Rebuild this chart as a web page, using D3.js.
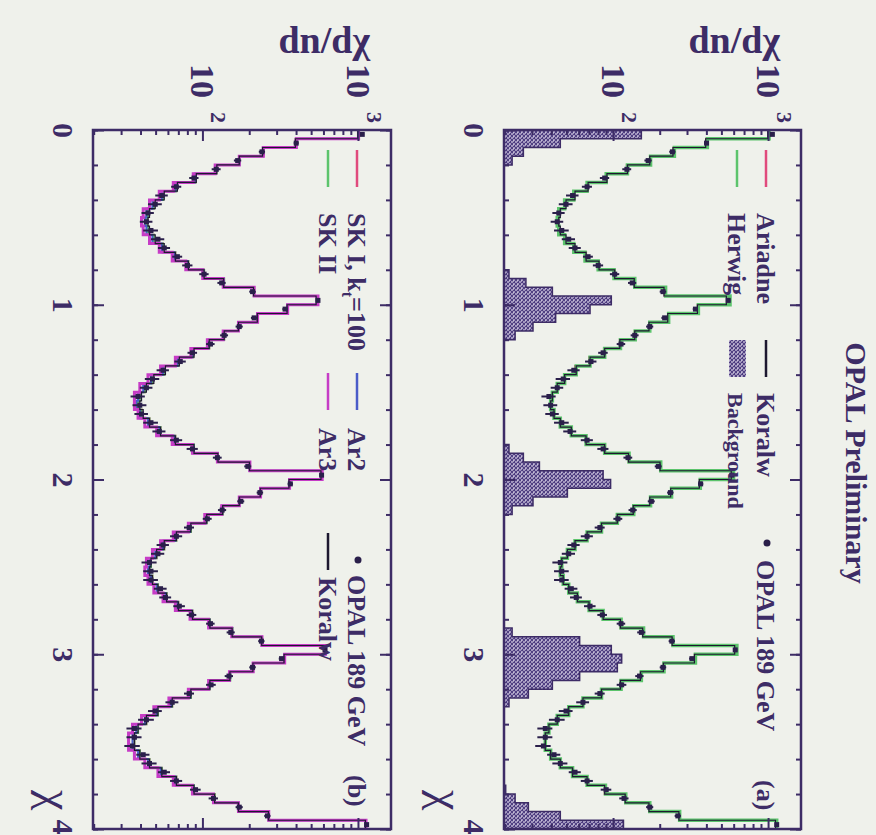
<!DOCTYPE html>
<html>
<head>
<meta charset="utf-8">
<script src="https://cdn.jsdelivr.net/npm/d3@7"></script>
<style>
  body { margin: 0; background: #eff1eb; }
  svg { display: block; }
  text { font-family: "Liberation Serif", "DejaVu Serif", serif; font-weight: bold; fill: #3d2c66; }
</style>
</head>
<body>
<svg id="chart" width="876" height="835"></svg>
<script>
// chi bins: 80 bins of width 0.05 between 0 and 4
const binWidth = 0.05;
const chiTicks = [0, 1, 2, 3, 4];
const logMajor = [100, 1000];
const logMinor = [20, 30, 40, 50, 60, 70, 80, 90, 200, 300, 400, 500, 600, 700, 800, 900];
const valueDomain = [19.5, 1607];

// OPAL 189 GeV data (same in both panels)
const opal = [
  1050, 395, 238, 166, 121, 87, 67, 54, 49, 44, 43, 46, 51, 56, 68, 79, 101, 131, 207, 545,
  335, 212, 170, 136, 111, 85, 71, 55, 47, 43, 38, 39, 40, 46, 52, 67, 85, 123, 193, 575,
  362, 231, 174, 132, 106, 81, 67, 55, 51, 45, 46, 46, 53, 57, 70, 84, 111, 150, 236, 605,
  318, 207, 146, 112, 81, 63, 49, 43, 36, 36, 35, 41, 45, 56, 67, 89, 116, 170, 258, 1120
];
const opalErr = [
  30, 14, 11, 9, 8, 6, 5, 5, 5, 4, 4, 5, 5, 5, 5, 6, 7, 8, 10, 17,
  13, 10, 9, 8, 7, 6, 6, 5, 5, 4, 4, 4, 4, 5, 5, 6, 7, 8, 10, 17,
  14, 11, 9, 8, 7, 6, 6, 5, 5, 5, 5, 5, 5, 5, 6, 6, 7, 9, 11, 18,
  13, 10, 9, 8, 6, 6, 5, 5, 4, 4, 4, 4, 5, 5, 6, 7, 8, 9, 12, 25
];

// panel (a) models
const koralw = [
  980, 390, 240, 170, 122, 90, 68, 56, 49, 45, 44, 45, 49, 56, 66, 80, 101, 135, 210, 530,
  345, 222, 168, 136, 109, 87, 70, 57, 48, 43, 40, 39, 41, 45, 53, 66, 87, 124, 198, 570,
  355, 232, 170, 133, 105, 83, 67, 56, 50, 46, 45, 47, 51, 58, 69, 85, 110, 153, 237, 600,
  330, 208, 148, 110, 83, 63, 51, 43, 38, 36, 36, 39, 45, 54, 67, 87, 118, 168, 262, 1100
];
const herwig = [
  1000, 400, 245, 172, 122, 89, 67, 55, 48, 44, 43, 44, 48, 55, 65, 79, 100, 136, 215, 560,
  350, 225, 170, 137, 110, 87, 70, 57, 48, 43, 40, 39, 41, 45, 53, 66, 87, 125, 200, 590,
  360, 235, 172, 134, 105, 83, 67, 56, 50, 46, 45, 47, 51, 58, 69, 85, 111, 155, 240, 620,
  335, 210, 150, 111, 83, 63, 51, 43, 38, 36, 36, 39, 45, 54, 67, 88, 119, 170, 265, 1120
];
const ariadne = [
  990, 392, 242, 171, 121, 89, 67, 55, 48, 44, 43, 44, 48, 55, 66, 80, 101, 136, 212, 545,
  347, 223, 169, 136, 109, 86, 69, 56, 48, 43, 40, 39, 41, 45, 53, 66, 87, 124, 199, 580,
  357, 233, 171, 133, 105, 83, 67, 56, 50, 46, 45, 47, 51, 58, 69, 85, 110, 154, 238, 610,
  332, 209, 149, 110, 83, 63, 51, 43, 38, 36, 36, 39, 45, 54, 67, 87, 118, 169, 263, 1110
];
const background = [
  150, 45, 26, 22, 19, 16, 14, 12, 11, 10, 10, 10, 11, 12, 14, 17, 21, 27, 40, 96,
  70, 42, 30, 23, 19, 15, 12, 11, 10, 10, 10, 10, 11, 12, 14, 18, 21, 26, 33, 85,
  95, 50, 30, 22, 18, 14, 12, 11, 10, 10, 10, 11, 12, 14, 16, 18, 19, 22, 60, 96,
  112, 105, 60, 40, 28, 21, 16, 13, 11, 10, 10, 11, 12, 14, 17, 20, 23, 28, 45, 115
];

// panel (b) models
const skI = [
  985, 392, 241, 170, 121, 89, 67, 55, 48, 44, 43, 44, 48, 55, 66, 80, 101, 135, 211, 540,
  346, 222, 168, 136, 109, 86, 69, 56, 47, 42, 39, 38, 40, 45, 53, 66, 87, 124, 198, 575,
  356, 232, 170, 133, 105, 83, 67, 56, 50, 46, 45, 47, 51, 58, 69, 85, 110, 153, 237, 605,
  331, 208, 148, 110, 83, 63, 51, 43, 38, 36, 36, 39, 45, 54, 67, 87, 118, 168, 262, 1105
];
const skII = [
  990, 394, 242, 171, 121, 89, 67, 55, 48, 44, 43, 44, 48, 55, 66, 80, 101, 136, 212, 542,
  347, 223, 169, 136, 109, 86, 69, 56, 47, 42, 39, 38, 40, 45, 53, 66, 87, 124, 199, 578,
  357, 233, 171, 133, 105, 83, 67, 56, 50, 46, 45, 47, 51, 58, 69, 85, 110, 154, 238, 608,
  332, 209, 149, 110, 83, 63, 51, 43, 38, 36, 36, 39, 45, 54, 67, 87, 118, 169, 263, 1108
];
const ar2 = [
  988, 393, 241, 170, 120, 88, 66, 54, 47, 43, 42, 43, 47, 54, 65, 79, 100, 135, 211, 541,
  346, 222, 168, 135, 108, 85, 68, 55, 46, 41, 38, 37, 39, 44, 52, 65, 86, 123, 198, 576,
  356, 232, 170, 132, 104, 82, 66, 55, 49, 45, 44, 46, 50, 57, 68, 84, 109, 153, 237, 606,
  331, 208, 148, 109, 82, 62, 50, 42, 37, 35, 35, 38, 44, 53, 66, 86, 117, 168, 262, 1106
];
const ar3 = [
  995, 396, 243, 170, 119, 86, 64, 52, 45, 41, 40, 41, 45, 52, 63, 77, 99, 134, 212, 545,
  348, 223, 168, 134, 106, 83, 66, 53, 44, 39, 36, 36, 38, 42, 50, 63, 85, 123, 199, 580,
  358, 233, 170, 131, 102, 80, 64, 53, 47, 43, 42, 44, 48, 55, 66, 82, 108, 152, 238, 610,
  333, 209, 147, 108, 80, 60, 48, 40, 35, 33, 33, 36, 42, 51, 64, 85, 116, 168, 263, 1110
];

const W = 876, H = 835;
const ink = "#3d2c66";
const svg = d3.select("#chart");
svg.append("rect").attr("width", W).attr("height", H).attr("fill", "#eff1eb");

const defs = svg.append("defs");
const pat = defs.append("pattern")
    .attr("id", "hatch")
    .attr("patternUnits", "userSpaceOnUse")
    .attr("width", 4).attr("height", 4);
pat.append("rect").attr("width", 4).attr("height", 4).attr("fill", "#c4bcd8");
pat.append("path")
    .attr("d", "M0,0L4,4M4,0L0,4")
    .attr("stroke", "#4b3a7e")
    .attr("stroke-width", 1.1);

// the figure is drawn upright and then turned a quarter turn clockwise
const page = svg.append("g").attr("transform", `translate(${W},0) rotate(90)`);

const x = d3.scaleLinear().domain([0, 4]).range([130, 829]);

function stepPoints(vals) {
    let pts = [];
    vals.forEach((v, i) => {
        pts.push([i * binWidth, v]);
        pts.push([(i + 1) * binWidth, v]);
    });
    return pts;
}

function drawPanel(cfg) {
    const g = page.append("g");
    const y = d3.scaleLog().domain(valueDomain).range([cfg.bottom, cfg.top]);

    const clipId = "clip" + cfg.name;
    defs.append("clipPath").attr("id", clipId)
        .append("rect")
        .attr("x", x(0)).attr("y", cfg.top)
        .attr("width", x(4) - x(0)).attr("height", cfg.bottom - cfg.top);

    const body = g.append("g").attr("clip-path", `url(#${clipId})`);

    if (cfg.background) {
        const area = d3.area()
            .x(d => x(d[0]))
            .y0(cfg.bottom)
            .y1(d => d[1] < valueDomain[0] ? cfg.bottom : y(d[1]));
        body.append("path")
            .attr("d", area(stepPoints(cfg.background)))
            .attr("fill", "url(#hatch)")
            .attr("stroke", ink)
            .attr("stroke-width", 1.5);
    }

    const line = d3.line()
        .x(d => x(d[0]))
        .y(d => y(Math.max(d[1], 1)));

    cfg.models.forEach(m => {
        body.append("path")
            .attr("d", line(stepPoints(m.values)))
            .attr("fill", "none")
            .attr("stroke", m.color)
            .attr("stroke-width", m.width);
    });

    // data points with error bars
    const pts = body.append("g").selectAll("g")
        .data(opal.map((v, i) => ({ c: (i + 0.5) * binWidth, v: v, e: opalErr[i] })))
        .enter()
        .append("g");
    pts.append("line")
        .attr("x1", d => x(d.c)).attr("x2", d => x(d.c))
        .attr("y1", d => y(d.v - d.e)).attr("y2", d => y(d.v + d.e))
        .attr("stroke", "#2a1f4a")
        .attr("stroke-width", 2);
    pts.append("rect")
        .attr("x", d => x(d.c) - 2.5).attr("y", d => y(d.v) - 2.5)
        .attr("width", 5).attr("height", 5)
        .attr("fill", "#2a1f4a");

    // frame and ticks
    const bottomMajor = g.append("g")
        .attr("transform", `translate(0,${cfg.bottom})`)
        .call(d3.axisBottom(x).tickValues(chiTicks).tickSize(-11).tickPadding(19).tickFormat(d3.format("d")));
    const bottomMinor = g.append("g")
        .attr("transform", `translate(0,${cfg.bottom})`)
        .call(d3.axisBottom(x).ticks(20).tickSize(-5).tickFormat(""));
    const topMajor = g.append("g")
        .attr("transform", `translate(0,${cfg.top})`)
        .call(d3.axisTop(x).tickValues(chiTicks).tickSize(-11).tickFormat(""));
    const topMinor = g.append("g")
        .attr("transform", `translate(0,${cfg.top})`)
        .call(d3.axisTop(x).ticks(20).tickSize(-5).tickFormat(""));
    const leftMajor = g.append("g")
        .attr("transform", `translate(${x(0)},0)`)
        .call(d3.axisLeft(y).tickValues(logMajor).tickSize(-11).tickFormat(""));
    const leftMinor = g.append("g")
        .attr("transform", `translate(${x(0)},0)`)
        .call(d3.axisLeft(y).tickValues(logMinor).tickSize(-5).tickFormat(""));
    const rightMajor = g.append("g")
        .attr("transform", `translate(${x(4)},0)`)
        .call(d3.axisRight(y).tickValues(logMajor).tickSize(-11).tickFormat(""));
    const rightMinor = g.append("g")
        .attr("transform", `translate(${x(4)},0)`)
        .call(d3.axisRight(y).tickValues(logMinor).tickSize(-5).tickFormat(""));

    [bottomMajor, bottomMinor, topMajor, topMinor, leftMajor, leftMinor, rightMajor, rightMinor].forEach(a => {
        a.select(".domain").remove();
        a.selectAll("line").attr("stroke", ink).attr("stroke-width", 2);
    });
    bottomMajor.selectAll("text")
        .attr("fill", ink)
        .style("font-size", "30px")
        .style("font-family", "Liberation Serif, serif")
        .style("font-weight", "bold");
    // the last label sits at the page edge: keep it inside
    bottomMajor.selectAll(".tick")
        .filter(d => d === 4)
        .select("text")
        .attr("text-anchor", "end")
        .attr("x", 5);

    g.append("rect")
        .attr("x", x(0)).attr("y", cfg.top)
        .attr("width", x(4) - x(0)).attr("height", cfg.bottom - cfg.top)
        .attr("fill", "none")
        .attr("stroke", ink)
        .attr("stroke-width", 2.5);

    // power-of-ten labels left of the value axis
    logMajor.forEach(v => {
        g.append("text")
            .attr("x", 98)
            .attr("y", y(v) + 12)
            .attr("text-anchor", "end")
            .style("font-size", "34px")
            .text("10");
        g.append("text")
            .attr("x", 112)
            .attr("y", y(v) - 8)
            .style("font-size", "22px")
            .text(Math.round(Math.log10(v)));
    });

    g.append("text")
        .attr("x", 790)
        .attr("y", cfg.bottom + cfg.chiDy)
        .style("font-size", "46px")
        .style("font-weight", "normal")
        .text("χ");

    // legend
    cfg.legend.forEach(it => {
        if (it.kind === "line") {
            g.append("line")
                .attr("x1", it.x).attr("x2", it.x + 37)
                .attr("y1", it.y - 9).attr("y2", it.y - 9)
                .attr("stroke", it.color).attr("stroke-width", 2.5);
        } else if (it.kind === "box") {
            g.append("rect")
                .attr("x", it.x).attr("y", it.y - 18)
                .attr("width", 37).attr("height", 17)
                .attr("fill", "url(#hatch)");
        } else if (it.kind === "dot") {
            g.append("circle")
                .attr("cx", it.x).attr("cy", it.y - 10)
                .attr("r", 3.5).attr("fill", "#2a1f4a");
        }
        const t = g.append("text")
            .attr("x", it.tx).attr("y", it.y)
            .style("font-size", (it.size || 26) + "px");
        if (it.sub) {
            t.append("tspan").text(it.label);
            t.append("tspan").attr("dy", 6).style("font-size", "16px").text(it.sub);
            t.append("tspan").attr("dy", -6).text(it.after);
        } else {
            t.text(it.label);
        }
    });
}

// panel (a): top of the upright figure
drawPanel({
    name: "a", top: 75, bottom: 372, chiDy: 72,
    background: background,
    models: [
        { values: ariadne, color: "#e04a7c", width: 2 },
        { values: herwig, color: "#5cc46c", width: 3.5 },
        { values: koralw, color: "#1d1830", width: 1.2 }
    ],
    legend: [
        { kind: "line", x: 150, y: 119, color: "#e04a7c", tx: 213, label: "Ariadne" },
        { kind: "line", x: 150, y: 148, color: "#5cc46c", tx: 213, label: "Herwig" },
        { kind: "line", x: 340, y: 119, color: "#1d1830", tx: 393, label: "Koralw" },
        { kind: "box", x: 340, y: 148, tx: 393, label: "Background", size: 22 },
        { kind: "dot", x: 543, y: 119, tx: 560, label: "OPAL 189 GeV" },
        { kind: "none", y: 119, tx: 780, label: "(a)" }
    ]
});

// panel (b): bottom of the upright figure
drawPanel({
    name: "b", top: 485, bottom: 783, chiDy: 52,
    models: [
        { values: skI, color: "#e04a7c", width: 2 },
        { values: skII, color: "#5cc46c", width: 2 },
        { values: ar2, color: "#4a5cc8", width: 2 },
        { values: ar3, color: "#c63cc6", width: 3 },
        { values: koralw, color: "#1d1830", width: 1.2 }
    ],
    legend: [
        { kind: "line", x: 150, y: 528, color: "#e04a7c", tx: 213, label: "SK I, k", sub: "t", after: "=100" },
        { kind: "line", x: 150, y: 557, color: "#5cc46c", tx: 213, label: "SK II" },
        { kind: "line", x: 373, y: 528, color: "#4a5cc8", tx: 428, label: "Ar2" },
        { kind: "line", x: 373, y: 557, color: "#c63cc6", tx: 428, label: "Ar3" },
        { kind: "dot", x: 560, y: 528, tx: 575, label: "OPAL 189 GeV" },
        { kind: "line", x: 533, y: 557, color: "#1d1830", tx: 577, label: "Koralw" },
        { kind: "none", y: 528, tx: 775, label: "(b)" }
    ]
});

page.append("text")
    .attr("x", 463).attr("y", 30)
    .attr("text-anchor", "middle")
    .style("font-size", "30px")
    .text("OPAL Preliminary");

// axis titles, upright on the page
svg.append("text").attr("x", 370).attr("y", 53).attr("text-anchor", "end").style("font-size", "38px").text("dn/dχ");
svg.append("text").attr("x", 780).attr("y", 53).attr("text-anchor", "end").style("font-size", "38px").text("dn/dχ");
</script>
</body>
</html>
